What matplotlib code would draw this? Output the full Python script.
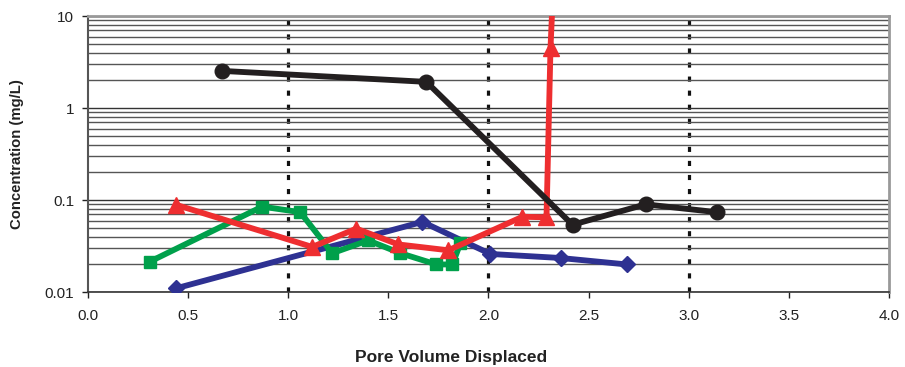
import matplotlib
matplotlib.use("Agg")
import matplotlib.pyplot as plt
from matplotlib.ticker import LogLocator, FixedLocator, NullFormatter

plt.rcParams['font.family'] = ['Liberation Sans', 'DejaVu Sans']

# Data
blue_x = [0.44, 1.67, 2.01, 2.36, 2.69]
blue_y = [0.011, 0.058, 0.026, 0.0235, 0.020]

green_x = [0.31, 0.87, 1.06, 1.22, 1.40, 1.56, 1.74, 1.82, 1.86]
green_y = [0.0215, 0.085, 0.074, 0.0265, 0.0365, 0.0265, 0.020, 0.020, 0.034]

red_x = [0.44, 1.12, 1.34, 1.55, 1.80, 2.17, 2.29, 2.31, 2.32]
red_y = [0.089, 0.031, 0.049, 0.033, 0.0285, 0.066, 0.065, 4.5, 14.0]

black_x = [0.67, 1.69, 2.42, 2.785, 3.14]
black_y = [2.54, 1.93, 0.054, 0.090, 0.074]

x_ticks = [0.0, 0.5, 1.0, 1.5, 2.0, 2.5, 3.0, 3.5, 4.0]
y_ticks = [0.01, 0.1, 1, 10]
y_tick_labels = ['0.01', '0.1', '1', '10']
dotted_x = [1.0, 2.0, 3.0]

fig = plt.figure(figsize=(9.05, 3.67), dpi=100)
ax = fig.add_axes([0.0972, 0.204, 0.885, 0.752])
ax.set_yscale('log')
ax.set_xlim(0, 4.0)
ax.set_ylim(0.01, 10)

# grid
ax.yaxis.set_major_locator(FixedLocator(y_ticks))
ax.yaxis.set_minor_locator(LogLocator(base=10, subs=range(2, 10)))
ax.yaxis.set_minor_formatter(NullFormatter())
ax.set_yticklabels(y_tick_labels)
ax.grid(which='major', axis='y', color='#333333', linewidth=1.0, zorder=0)
ax.grid(which='minor', axis='y', color='#555555', linewidth=1.0, zorder=0)
for xv in dotted_x:
    ax.axvline(xv, color='#111111', linewidth=2.3, linestyle=(0, (1.6, 2.8)), zorder=1)

ax.set_xticks(x_ticks)
ax.set_xticklabels([f'{v:.1f}' for v in x_ticks])

lw = 4.2
ax.plot(blue_x, blue_y, color='#2e3192', marker='D', markersize=8, linewidth=lw, zorder=3)
ax.plot(green_x, green_y, color='#00a04b', marker='s', markersize=8.5, linewidth=lw, zorder=4)
ax.plot(red_x[:-1], red_y[:-1], color='#ee2e30', marker='^', markersize=11, linewidth=lw, zorder=5, linestyle='none')
ax.plot(red_x, red_y, color='#ee2e30', linewidth=lw, zorder=5)
ax.plot(black_x, black_y, color='#231f20', marker='o', markersize=10.5, linewidth=lw, zorder=6)

for s in ['top', 'right']:
    ax.spines[s].set_color('#999999')
    ax.spines[s].set_linewidth(2)
ax.spines['left'].set_color('#555555')
ax.spines['left'].set_linewidth(1.5)
ax.spines['bottom'].set_color('#333333')
ax.spines['bottom'].set_linewidth(1.2)

ax.tick_params(axis='both', which='major', labelsize=11, colors='#222222', length=4, width=1)
ax.tick_params(axis='y', which='minor', length=0)
ax.tick_params(axis='x', pad=8)
ax.tick_params(axis='y', pad=6)

ax.set_xlabel('Pore Volume Displaced', fontsize=12.5, fontweight='bold', color='#222222')
ax.set_ylabel('Concentration (mg/L)', fontsize=10.7, fontweight='bold', color='#222222')
ax.xaxis.set_label_coords(0.453, -0.21)
ax.yaxis.set_label_coords(-0.08, 0.5)

fig.savefig('out.png', dpi=100)
